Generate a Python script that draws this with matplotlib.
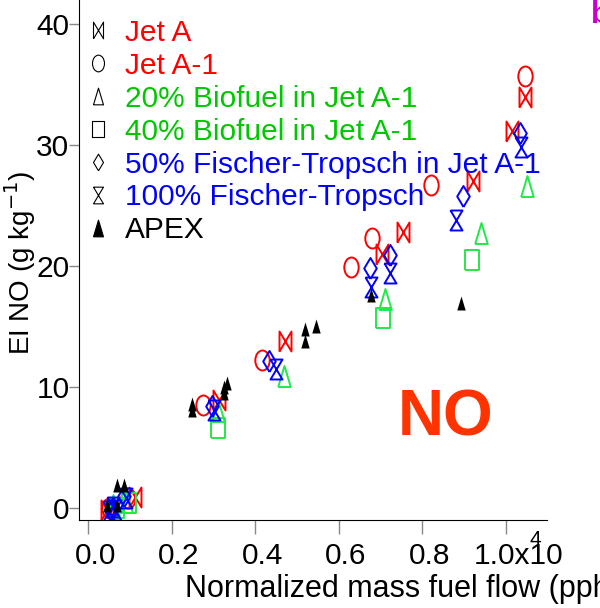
import numpy as np
import matplotlib
matplotlib.use("Agg")
import matplotlib.pyplot as plt
import matplotlib.transforms as mtransforms
from matplotlib.path import Path
from matplotlib.lines import Line2D

plt.rcParams['font.family'] = ['Liberation Sans', 'DejaVu Sans']

# normalized fuel flow (x 10^4 pph) and EI NO (g/kg) per fuel
jeta_x = [1.047, 1.015, 0.921, 0.754, 0.703, 0.472, 0.312, 0.113, 0.045]
jeta_y = [34.0, 31.2, 27.0, 22.8, 21.0, 13.8, 8.9, 0.9, -0.2]
jeta1_x = [1.047, 0.821, 0.680, 0.630, 0.416, 0.276, 0.095, 0.050]
jeta1_y = [35.7, 26.7, 22.3, 19.9, 12.2, 8.5, 0.8, 0.0]
bio20_x = [1.051, 0.941, 0.710, 0.469, 0.311, 0.090, 0.060]
bio20_y = [26.6, 22.7, 17.3, 10.9, 8.0, 0.5, 0.2]
bio40_x = [0.919, 0.707, 0.311, 0.097, 0.070]
bio40_y = [20.5, 15.7, 6.6, 0.4, 0.0]
ft50_x = [1.035, 0.897, 0.723, 0.674, 0.432, 0.296, 0.085, 0.060, 0.055]
ft50_y = [31.0, 25.8, 20.9, 19.8, 12.1, 8.4, 1.0, 0.0, -0.2]
ft100_x = [1.036, 0.881, 0.723, 0.677, 0.450, 0.300, 0.090, 0.060, 0.050, 0.065]
ft100_y = [29.8, 23.8, 19.4, 18.3, 11.5, 8.1, 0.8, 0.1, -0.3, -0.2]
apex_x = [0.893, 0.677, 0.520, 0.520, 0.546, 0.248, 0.248, 0.324, 0.332, 0.324,
          0.069, 0.085, 0.045, 0.068]
apex_y = [16.9, 17.6, 14.8, 13.8, 15.0, 8.6, 8.1, 10.0, 10.3, 9.5,
          1.9, 1.9, 0.25, 0.25]

xticks = [0.0, 0.2, 0.4, 0.6, 0.8, 1.0]
xticklabels = ['0.0', '0.2', '0.4', '0.6', '0.8', '1.0x10']
yticks = [0, 10, 20, 30, 40]

# tall, narrow marker shapes
w = 0.6
bowtie = Path([(-w, -1), (-w, 1), (w, -1), (w, 1), (-w, -1)])
hourglass = Path([(-w, 1), (w, 1), (-w, -1), (w, -1), (-w, 1)])
tri = Path([(-w, -1), (0, 1), (w, -1), (-w, -1)])
rect = Path([(-w, -0.85), (-w, 0.85), (w, 0.85), (w, -0.85), (-w, -0.85)])
diamond = Path([(0, -1), (w, 0), (0, 1), (-w, 0), (0, -1)])
uc = Path.unit_circle()
ellipse = Path(uc.vertices * [0.72, 1.0], uc.codes)

red = '#FF0000'
green_m = '#22E84A'
green_t = '#00C800'
blue = '#0000FF'

fig = plt.figure(figsize=(6.0, 6.08), dpi=100)
ax = fig.add_axes([0.132, 0.145, 0.78, 0.855])

series = [
    (jeta_x, jeta_y, bowtie, red, 20),
    (jeta1_x, jeta1_y, ellipse, red, 20),
    (bio20_x, bio20_y, tri, green_m, 21),
    (bio40_x, bio40_y, rect, green_m, 21),
    (ft50_x, ft50_y, diamond, blue, 21),
    (ft100_x, ft100_y, hourglass, blue, 20),
]
for xs, ys, mk, c, sz in series:
    ax.plot(xs, ys, ls='none', marker=mk, markersize=sz / 1.39,
            markerfacecolor='none', markeredgecolor=c, markeredgewidth=1.4)
ax.plot(apex_x, apex_y, ls='none', marker=tri, markersize=14 / 1.39,
        color='black', markeredgewidth=0)

ax.set_xlim(-0.0216, 1.099)
ax.set_ylim(-1.0, 42.0)
ax.spines['top'].set_visible(False)
ax.spines['right'].set_visible(False)
ax.set_xticks(xticks)
ax.set_xticklabels(xticklabels)
ax.set_yticks(yticks)
ax.tick_params(axis='x', length=10, width=1, color='#888888', labelsize=21.5, pad=6)
ax.tick_params(axis='y', length=7, width=1, color='#888888', labelsize=21.5, pad=0)
# tick labels sit a little right of their ticks
for i, lbl in enumerate(ax.get_xticklabels()):
    dx = 13 if i == len(xticks) - 1 else 7
    off = mtransforms.ScaledTranslation(dx / 100, 0, fig.dpi_scale_trans)
    lbl.set_transform(lbl.get_transform() + off)
ax.text(1.07, -3.4, '4', fontsize=15, ha='center', va='bottom')

ax.set_xlabel('Normalized mass fuel flow (pph)', fontsize=22, ha='left')
ax.xaxis.set_label_coords(0.227, -0.105)
ax.set_ylabel('EI NO (g kg$^{-1}$)', fontsize=20)
ax.yaxis.set_label_coords(-0.088, 0.494)

labels = ['Jet A', 'Jet A-1', '20% Biofuel in Jet A-1', '40% Biofuel in Jet A-1',
          '50% Fischer-Tropsch in Jet A-1', '100% Fischer-Tropsch', 'APEX']
lcolors = [red, red, green_t, green_t, blue, blue, 'black']
lmarkers = [bowtie, ellipse, tri, rect, diamond, hourglass, tri]
handles = []
for i, mk in enumerate(lmarkers):
    filled = labels[i] == 'APEX'
    handles.append(Line2D([], [], ls='none', marker=mk, markersize=12,
                          markerfacecolor='black' if filled else 'none',
                          markeredgecolor='black', markeredgewidth=0.8))
ax.legend(handles, labels, labelcolor=lcolors, loc='upper left',
          bbox_to_anchor=(-0.024, 1.004), frameon=False, fontsize=21.5,
          handlelength=0.6, handletextpad=0.6, labelspacing=0.165,
          borderaxespad=0.3)

ax.text(0.855, 7.4, 'NO', fontsize=46, fontweight='bold', color='#FF3300',
        ha='center', va='center')
fig.text(0.985, 0.975, 'b', fontsize=22, fontweight='bold', color='#CC00CC',
         ha='left', va='center')

fig.savefig('out.png', dpi=100)
